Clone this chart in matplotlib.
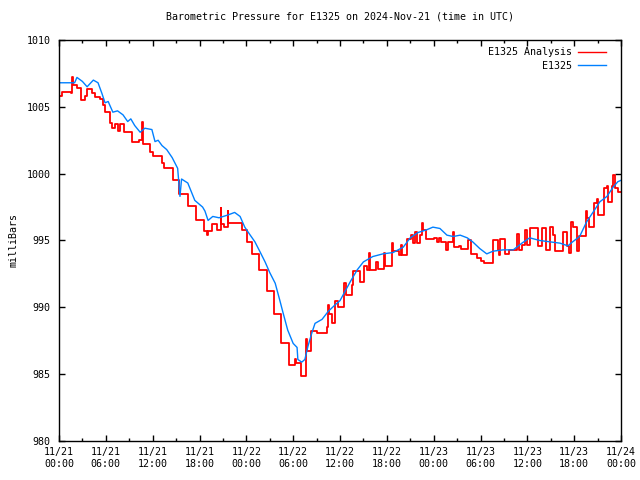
import matplotlib
matplotlib.use('Agg')
import matplotlib.pyplot as plt

# hours since 2024-11-21 00:00 UTC
obs_hours = [0, 1, 2, 2.3, 3.0, 3.6, 4.4, 5.0, 5.5, 5.9, 6.3, 6.9, 7.5, 8.2, 8.8, 9.2,
             9.7, 10.4, 11.0, 11.9, 12.3, 12.7, 13.2, 13.8, 14.5, 15.2, 15.5, 15.7,
             16.5, 17.4, 18.4, 18.7, 19.1, 19.7, 20.5, 21.6, 22.5, 23.2, 23.8, 24.5,
             25.1, 25.8, 26.4, 27.0, 27.7, 28.3, 28.7, 29.3, 30.0, 30.5, 30.6, 31.1,
             31.5, 31.9, 32.4, 32.8, 33.7, 34.5, 35.4, 36.0, 37.3, 38.2, 39.0, 40.2,
             41.5, 42.8, 44.1, 45.0, 46.0, 47.1, 47.9, 48.8, 49.7, 50.5, 51.4, 52.3,
             53.0, 53.9, 54.8, 55.6, 56.9, 58.2, 59.3, 60.3, 61.6, 62.9, 64.2, 65.2,
             65.8, 66.7, 67.6, 68.4, 69.3, 70.2, 71.0, 71.6, 72.0]
obs_press = [1006.8, 1006.8, 1006.8, 1007.2, 1006.9, 1006.5, 1007.0, 1006.8, 1006.0,
             1005.3, 1005.4, 1004.6, 1004.7, 1004.4, 1003.9, 1004.1, 1003.6, 1003.1,
             1003.4, 1003.3, 1002.4, 1002.5, 1002.1, 1001.8, 1001.2, 1000.4, 998.3,
             999.6, 999.3, 998.0, 997.5, 997.2, 996.5, 996.8, 996.7, 996.9, 997.1,
             996.8, 996.0, 995.4, 994.9, 994.1, 993.4, 992.6, 991.8, 990.5, 989.6,
             988.3, 987.3, 987.0, 986.1, 985.9, 986.1, 987.1, 988.1, 988.8, 989.1,
             989.7, 990.2, 990.5, 991.9, 992.8, 993.4, 993.8, 994.0, 994.1, 994.5,
             995.2, 995.6, 995.8, 996.0, 995.9, 995.4, 995.3, 995.4, 995.2, 994.9,
             994.4, 994.0, 994.2, 994.3, 994.3, 994.8, 995.2, 995.0, 994.9, 994.8,
             994.6, 994.9, 995.3, 996.4, 997.1, 997.9, 998.3, 999.0, 999.4, 999.5]

ana_hours = [0.0, 0.4, 1.6, 1.7, 1.8, 2.3, 2.8, 3.3, 3.6, 4.2, 4.6, 5.3, 5.6, 5.9, 6.5,
             6.8, 7.2, 7.6, 7.8, 8.3, 9.3, 10.3, 10.6, 10.7, 11.6, 12.0, 13.2, 13.5,
             14.6, 15.4, 16.5, 17.6, 18.6, 19.0, 19.1, 19.6, 20.2, 20.7, 20.8, 21.2,
             21.6, 21.7, 23.5, 24.1, 24.7, 25.6, 26.6, 27.6, 28.5, 29.5, 30.2, 30.4,
             31.0, 31.7, 31.8, 32.3, 33.0, 34.3, 34.5, 34.6, 35.0, 35.3, 35.7, 36.5,
             36.8, 37.5, 37.7, 38.6, 39.1, 39.5, 39.7, 39.8, 40.6, 40.9, 41.6, 41.8,
             42.7, 42.8, 43.5, 43.8, 43.9, 44.6, 45.1, 45.3, 45.6, 45.9, 46.3, 46.5,
             46.6, 47.0, 48.0, 48.4, 48.7, 49.0, 49.6, 49.9, 50.5, 50.6, 51.2, 51.5,
             52.4, 52.8, 53.5, 54.0, 54.4, 55.6, 56.2, 56.4, 56.5, 57.2, 57.6, 58.7,
             58.9, 59.3, 59.7, 59.9, 60.3, 61.4, 61.9, 62.4, 62.9, 63.3, 63.6, 64.6,
             65.1, 65.4, 65.6, 65.8, 66.3, 66.6, 67.5, 67.7, 67.9, 68.6, 68.9, 69.1,
             69.8, 70.2, 70.3, 70.8, 71.0, 71.2, 71.6, 72.0]
ana_press = [1005.8, 1006.1, 1006.0, 1007.2, 1006.6, 1006.4, 1005.5, 1005.8, 1006.3,
             1006.0, 1005.7, 1005.6, 1005.1, 1004.6, 1003.8, 1003.4, 1003.7, 1003.2,
             1003.7, 1003.1, 1002.4, 1002.5, 1003.9, 1002.2, 1001.6, 1001.3, 1000.8,
             1000.4, 999.5, 998.5, 997.6, 996.5, 995.7, 995.4, 995.7, 996.2, 995.8,
             997.4, 996.2, 996.0, 997.2, 996.3, 995.8, 994.9, 994.0, 992.8, 991.2,
             989.5, 987.3, 985.7, 986.1, 985.8, 984.9, 987.6, 986.7, 988.2, 988.1,
             988.5, 990.2, 989.5, 988.8, 990.5, 990.0, 991.8, 990.9, 991.7, 992.7,
             991.9, 993.1, 992.8, 994.1, 992.8, 993.4, 992.9, 994.1, 993.1, 994.8,
             994.2, 993.9, 994.7, 993.9, 995.1, 995.4, 994.8, 995.6, 994.8, 995.4,
             996.3, 995.8, 995.1, 995.2, 994.9, 995.2, 994.9, 994.3, 994.9, 995.6,
             994.5, 994.6, 994.4, 995.0, 994.0, 993.7, 993.5, 993.3, 995.0, 994.3,
             993.9, 995.1, 994.0, 994.3, 995.5, 994.3, 994.7, 995.8, 994.7, 995.9,
             994.6, 995.9, 994.3, 996.0, 995.4, 994.2, 995.6, 994.6, 994.1, 996.4,
             996.0, 994.2, 995.3, 997.2, 996.7, 996.0, 997.8, 998.1, 996.9, 998.9,
             999.1, 997.9, 999.1, 999.9, 998.9, 998.6, 998.6]

tick_hours = list(range(0, 73, 6))
tick_labels = ['11/21\n00:00', '11/21\n06:00', '11/21\n12:00', '11/21\n18:00',
               '11/22\n00:00', '11/22\n06:00', '11/22\n12:00', '11/22\n18:00',
               '11/23\n00:00', '11/23\n06:00', '11/23\n12:00', '11/23\n18:00',
               '11/24\n00:00']

plt.rcParams['font.family'] = 'DejaVu Sans Mono'
plt.rcParams['font.size'] = 7.2

fig = plt.figure(figsize=(6.4, 4.8), dpi=100)
ax = fig.add_axes([59 / 640, 1 - 441 / 480, 562 / 640, 401 / 480])

ax.plot(ana_hours, ana_press, drawstyle='steps-post', color='#ff0000',
        linewidth=1.3, label='E1325 Analysis')
ax.plot(obs_hours, obs_press, color='#0080ff', linewidth=1.0, label='E1325')

ax.set_xlim(0, 72)
ax.set_ylim(980, 1010)
ax.set_xticks(tick_hours)
ax.set_xticklabels(tick_labels, linespacing=1.35)
ax.set_xticks(range(3, 72, 6), minor=True)
ax.set_yticks(range(980, 1011, 5))

ax.tick_params(which='both', direction='in', top=True, right=True, width=1)
ax.tick_params(which='major', length=4, pad=4)
ax.tick_params(which='minor', length=2)
ax.tick_params(axis='y', pad=6)
for s in ax.spines.values():
    s.set_linewidth(1)

ax.set_ylabel('milliBars', labelpad=6)
ax.set_title('Barometric Pressure for E1325 on 2024-Nov-21 (time in UTC)',
             fontsize=7.2, pad=15)

leg = ax.legend(loc='upper right', bbox_to_anchor=(0.982, 0.995), frameon=False,
                markerfirst=False, handlelength=2.8, handletextpad=0.6,
                labelspacing=0.35, borderpad=0)
for line in leg.get_lines():
    line.set_linewidth(1.0)

fig.savefig('out.png', dpi=100)
